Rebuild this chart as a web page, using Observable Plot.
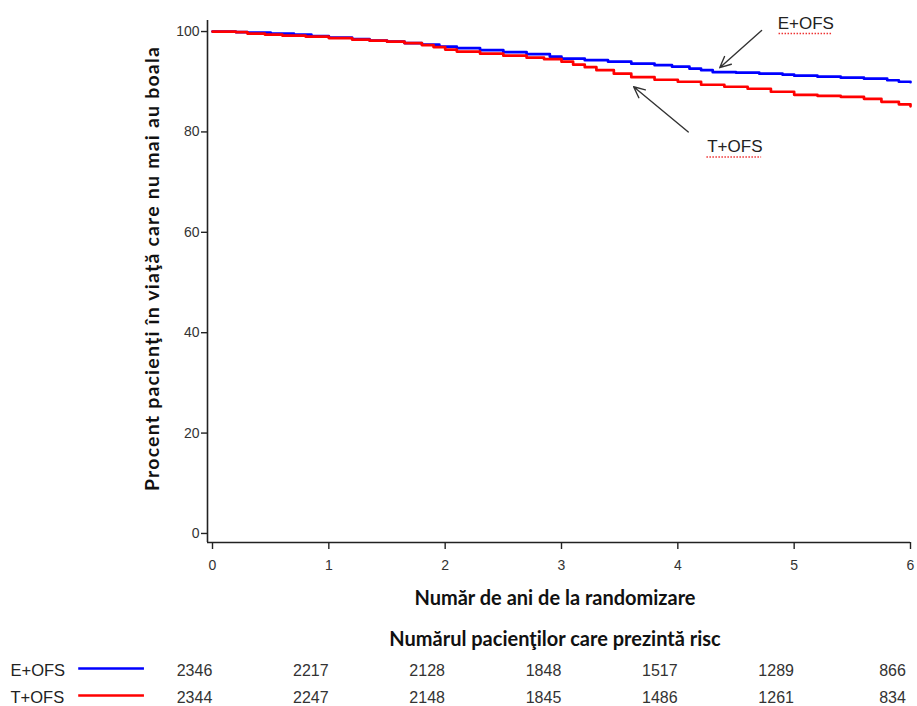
<!DOCTYPE html>
<html>
<head>
<meta charset="utf-8">
<script src="https://cdn.jsdelivr.net/npm/d3@7"></script>
<script src="https://cdn.jsdelivr.net/npm/@observablehq/plot@0.6"></script>
<style>
  html, body { margin: 0; padding: 0; background: #fff; }
  #chart svg { display: block; }
</style>
</head>
<body>
<div id="chart"></div>
<script>
// ---- data ----
const groups = ["E+OFS", "T+OFS"];
const groupColors = ["#0000ff", "#ff0000"];

const timesE = [0, 0.1, 0.2, 0.3, 0.5, 0.7, 0.85, 1.0, 1.2, 1.35, 1.5, 1.65, 1.8, 1.95, 2.1, 2.3, 2.5, 2.7, 2.9, 3.0, 3.2, 3.4, 3.6, 3.8, 3.95, 4.1, 4.2, 4.3, 4.5, 4.7, 4.9, 5.0, 5.2, 5.4, 5.6, 5.8, 5.9, 6.0];
const survE = [100, 100, 99.9, 99.8, 99.6, 99.4, 99.1, 98.8, 98.5, 98.2, 98.0, 97.7, 97.4, 97.0, 96.7, 96.3, 95.9, 95.5, 95.0, 94.6, 94.3, 94.0, 93.6, 93.3, 93.0, 92.6, 92.3, 91.9, 91.8, 91.6, 91.4, 91.2, 91.0, 90.8, 90.6, 90.3, 90.0, 89.9];

const timesT = [0, 0.2, 0.3, 0.45, 0.6, 0.8, 1.0, 1.2, 1.35, 1.5, 1.65, 1.8, 1.9, 2.0, 2.1, 2.3, 2.5, 2.7, 2.85, 3.0, 3.1, 3.2, 3.3, 3.45, 3.6, 3.8, 4.0, 4.2, 4.4, 4.6, 4.8, 5.0, 5.2, 5.4, 5.6, 5.75, 5.9, 6.0];
const survT = [100, 99.9, 99.6, 99.4, 99.2, 99.0, 98.7, 98.4, 98.2, 98.0, 97.7, 97.3, 96.9, 96.4, 96.0, 95.6, 95.2, 94.8, 94.5, 94.0, 93.4, 92.9, 92.3, 91.6, 90.9, 90.4, 90.0, 89.4, 89.0, 88.6, 88.0, 87.4, 87.2, 87.0, 86.6, 86.0, 85.5, 85.1];

const xTicks = [0, 1, 2, 3, 4, 5, 6];
const yTicks = [0, 20, 40, 60, 80, 100];
const riskYears = [0, 1, 2, 3, 4, 5, 6];
const riskE = [2346, 2217, 2128, 1848, 1517, 1289, 866];
const riskT = [2344, 2247, 2148, 1845, 1486, 1261, 834];

const yTitle = "Procent pacienţi în viaţă care nu mai au boala";
const xTitle = "Număr de ani de la randomizare";
const riskTitle = "Numărul pacienţilor care prezintă risc";

// annotation anchors (data units)
const annotations = [
  {label: "E+OFS", tx: 5.1, ty: 101.6, x1: 4.72, y1: 100.2, x2: 4.36, y2: 92.8, u1: 4.87, u2: 5.33},
  {label: "T+OFS", tx: 4.49, ty: 77.0, x1: 4.09, y1: 80.0, x2: 3.62, y2: 89.0, u1: 4.25, u2: 4.72}
];

// ---- build tables ----
const curve = [
  ...timesE.map((t, i) => ({t, s: survE[i], g: groups[0]})),
  ...timesT.map((t, i) => ({t, s: survT[i], g: groups[1]}))
];
const risk = [
  ...riskYears.map((t, i) => ({t, n: riskE[i], g: groups[0]})),
  ...riskYears.map((t, i) => ({t, n: riskT[i], g: groups[1]}))
];

const W = 917;
const mL = 207, mR = 7, mT = 20, mB = 78, H1 = 620;
const xDomain = [-0.043, 6];
const yDomain = [-1.8, 102.2];
const font = "Liberation Sans, Arial, sans-serif";
const titleFont = "Lato, Carlito, Calibri, sans-serif";

const main = Plot.plot({
  width: W, height: H1,
  marginLeft: mL, marginRight: mR, marginTop: mT, marginBottom: mB,
  style: {fontFamily: font, fontSize: "14px", background: "#fff", overflow: "visible"},
  x: {domain: xDomain},
  y: {domain: yDomain},
  color: {domain: groups, range: groupColors},
  marks: [
    Plot.ruleX([xDomain[0]], {stroke: "#222", strokeWidth: 1.6}),
    Plot.ruleY([yDomain[0]], {stroke: "#222", strokeWidth: 1.6}),
    Plot.axisY({ticks: yTicks, tickSize: 6, tickPadding: 2, fontSize: 14, color: "#333", stroke: "#222", strokeWidth: 1.4, label: null}),
    Plot.axisX({ticks: xTicks, tickFormat: d => String(d), tickSize: 7, tickPadding: 11, fontSize: 14, color: "#333", stroke: "#222", strokeWidth: 1.4, label: null}),
    Plot.line(curve, {x: "t", y: "s", z: "g", stroke: "g", curve: "step-after", strokeWidth: 2.7}),
    Plot.arrow(annotations, {x1: "x1", y1: "y1", x2: "x2", y2: "y2", stroke: "#333", strokeWidth: 1.4, headLength: 13, headAngle: 50}),
    Plot.text(annotations, {x: "tx", y: "ty", text: "label", fontSize: 17, fill: "#222", fontFamily: font}),
    // spell-check style squiggle under the annotation labels
    Plot.ruleY(annotations, {y: "ty", x1: "u1", x2: "u2", dy: 10, stroke: "#ee3333", strokeWidth: 1.6, strokeDasharray: "1.5,1.5"}),
    Plot.text([yTitle], {frameAnchor: "left", textAnchor: "middle", rotate: -90, dx: -55, dy: -13, fontSize: 19.5, fontWeight: "bold", fill: "#111", fontFamily: titleFont}),
    Plot.text([xTitle], {frameAnchor: "bottom", textAnchor: "middle", dy: 62, dx: -4, fontSize: 20, fontWeight: "bold", fill: "#111", fontFamily: titleFont})
  ]
});

// widen the vertical title's tracking to match the reference
d3.select(main).selectAll("text")
  .filter(function () { return this.textContent === yTitle; })
  .style("letter-spacing", "1.2px");

const H2 = 86;
const legendLine = [-1.15, -0.585];
const riskPlot = Plot.plot({
  width: W, height: H2,
  marginLeft: mL, marginRight: mR, marginTop: 0, marginBottom: 0,
  style: {fontFamily: font, background: "#fff", overflow: "visible"},
  x: {domain: xDomain, axis: null},
  y: {type: "point", domain: groups, range: [50, 77], padding: 0, axis: null},
  color: {domain: groups, range: groupColors},
  marks: [
    Plot.text([riskTitle], {frameAnchor: "top", textAnchor: "middle", dy: 11, dx: -4, fontSize: 20, fontWeight: "bold", fill: "#111", fontFamily: titleFont}),
    Plot.text(groups, {x: xDomain[0], y: d => d, text: d => d, textAnchor: "start", dx: -197, fontSize: 16.5, fill: "#222"}),
    Plot.ruleY(groups, {y: d => d, x1: legendLine[0], x2: legendLine[1], stroke: d => d, strokeWidth: 2.6, dy: -2}),
    Plot.text(risk, {x: "t", y: "g", text: d => String(d.n), dx: -18, fontSize: 16, fill: "#333"})
  ]
});

const el = document.getElementById("chart");
el.appendChild(main);
el.appendChild(riskPlot);
</script>
</body>
</html>
